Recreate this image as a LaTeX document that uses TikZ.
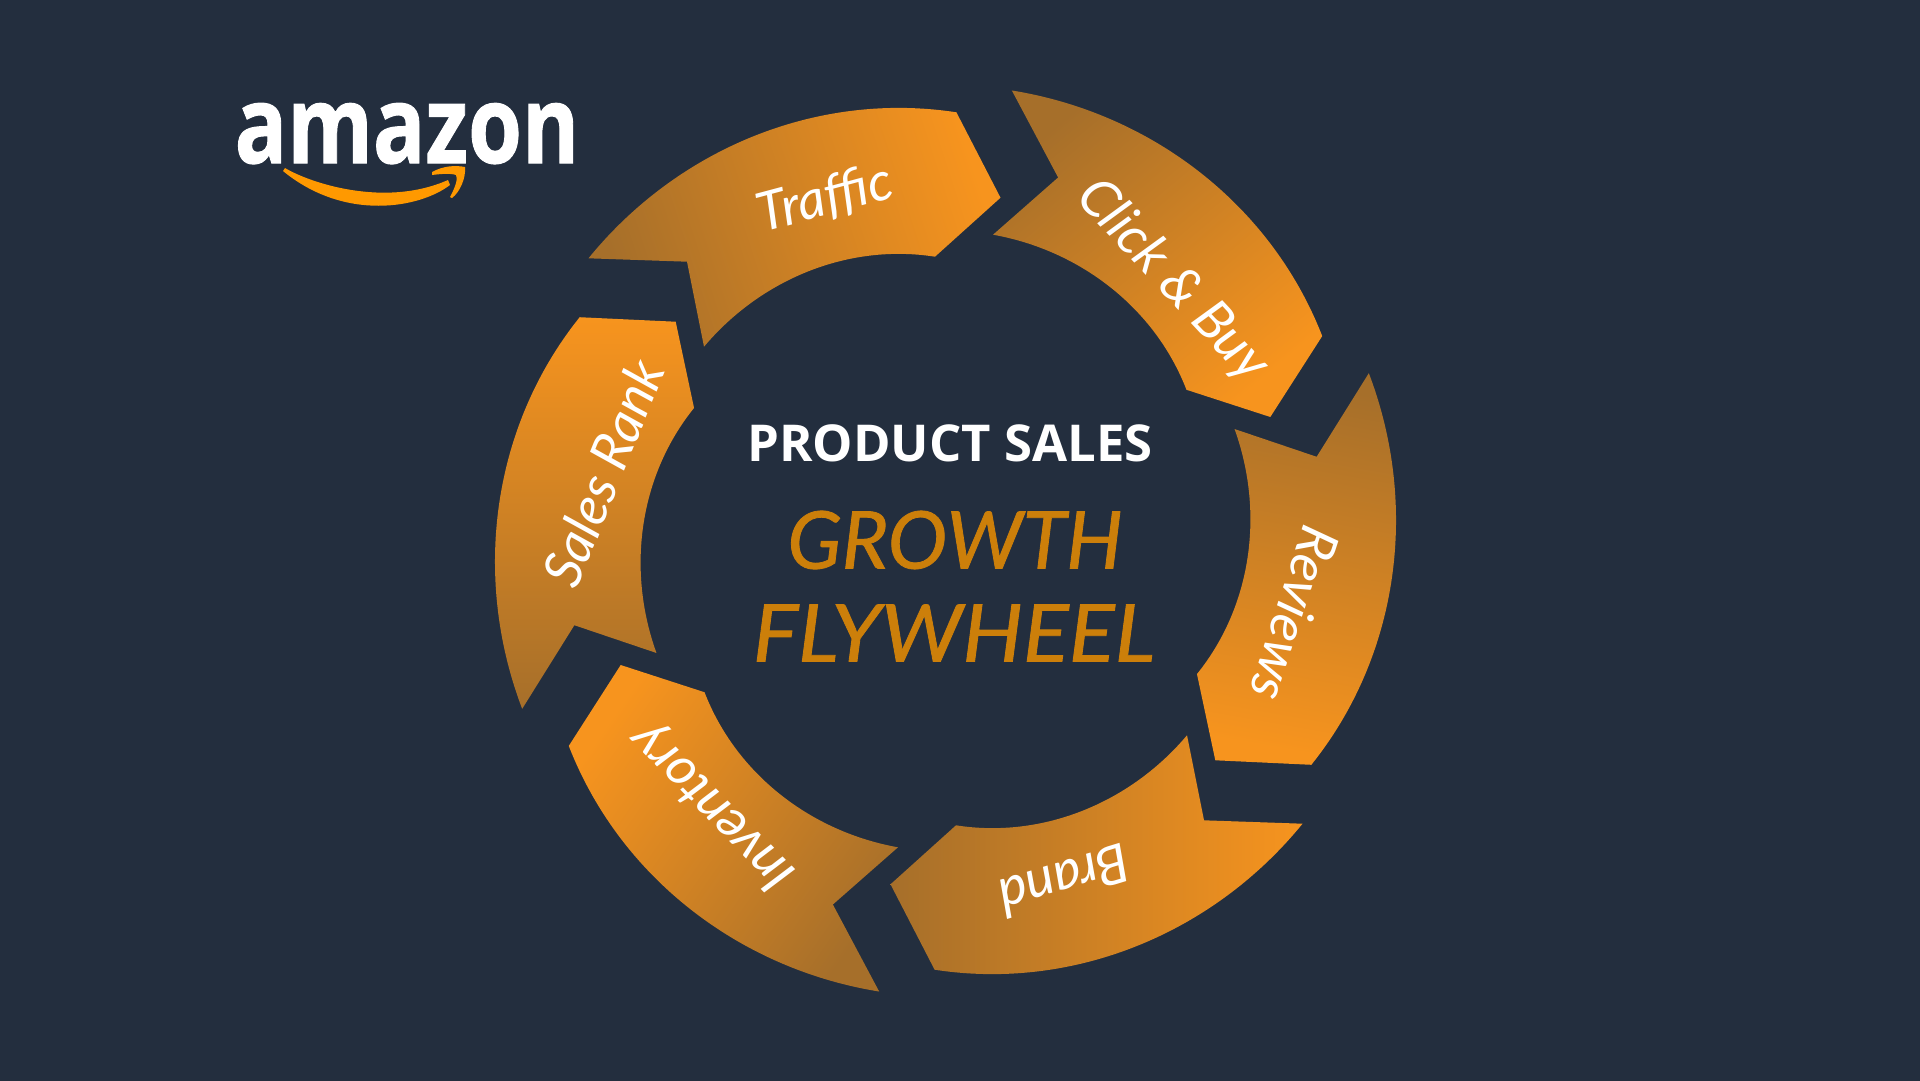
\documentclass[tikz,border=0pt]{standalone}
\usepackage{fontspec}
\setmainfont{Open Sans}
\newfontfamily\handfont{Lato}
\definecolor{bgnavy}{HTML}{232E3E}
\definecolor{wheelbright}{HTML}{F7941E}
\definecolor{wheeldull}{HTML}{A66F2A}
\definecolor{titlegold}{HTML}{CC7F0A}
\definecolor{smileorange}{HTML}{FF9900}
\tikzset{
  flylabel/.style={font=\handfont\itshape\fontsize{54}{56}\selectfont,text=white,inner sep=0pt},
  bigword/.style={font=\handfont\itshape\addfontfeature{FakeBold=1}\fontsize{80}{84}\selectfont,text=titlegold,inner sep=0pt}
}
\begin{document}
\begin{tikzpicture}[x=1bp,y=1bp]
      \useasboundingbox (0,-1080) rectangle (1920,0);
      \fill [bgnavy] (-5,-1085) rectangle (1925,5);
      % six arrows, one outline turned round the hub
      \foreach \rot/\shang in {0/-72, -60/-140, -120/170, -180/-90, -240/55, -300/0} {
        \shade [shift={(945.5,-541)},rotate=\rot,bottom color=wheeldull,top color=wheelbright,shading angle=\shang]
          (-357,282.7) .. controls (-268,392.1) and (-128.5,450.1) .. (10.9,428.7)
          -- (55,343.3) -- (-10.5,284.3)
          .. controls (-97.4,297.9) and (-184.8,261.6) .. (-241.5,194.3)
          -- (-258.5,279.3) -- cycle;
      }
      % labels
      \foreach \nm/\px/\py/\ang/\txt in {traffic/825/199/15/Traffic, clickbuy/1172/281/-47/Click \& Buy,
          reviews/1295/614/-108/Reviews, brand/1065/881/197/Brand,
          inventory/713/806/134/Inventory, salesrank/603/473/68/Sales Rank} {
        \node [flylabel,rotate=\ang] (\nm) at (\px,-\py) {\txt};
      }
      \node [font=\bfseries\fontsize{51}{56}\selectfont,text=white,inner sep=0pt] (sales) at (950,-443) {PRODUCT SALES};
      \node [bigword] (growth) at (955,-540) {GROWTH};
      \node [bigword] (flywheel) at (954,-633) {\scalebox{1.07}[1]{FLYWHEEL}};
      % logo
      \node [font=\bfseries\addfontfeature{FakeBold=1}\fontsize{108}{110}\selectfont,text=white,inner sep=0pt,anchor=base] (amazon) at (407,-163) {\scalebox{.81}[1]{amazon}};
      \fill [smileorange] (285,-168) .. controls (310,-183) and (385,-208) .. (448,-180)
        -- (450,-185) .. controls (420,-208) and (345,-222) .. (283,-171) -- cycle;
      \fill [smileorange] (432,-172) .. controls (443,-166) and (455,-165) .. (465,-167)
        .. controls (466,-178) and (460,-192) .. (452,-198)
        -- (450,-197) .. controls (456,-186) and (458,-178) .. (456,-175)
        .. controls (450,-173) and (440,-174) .. (432,-175) -- cycle;
    \end{tikzpicture}
\end{document}
